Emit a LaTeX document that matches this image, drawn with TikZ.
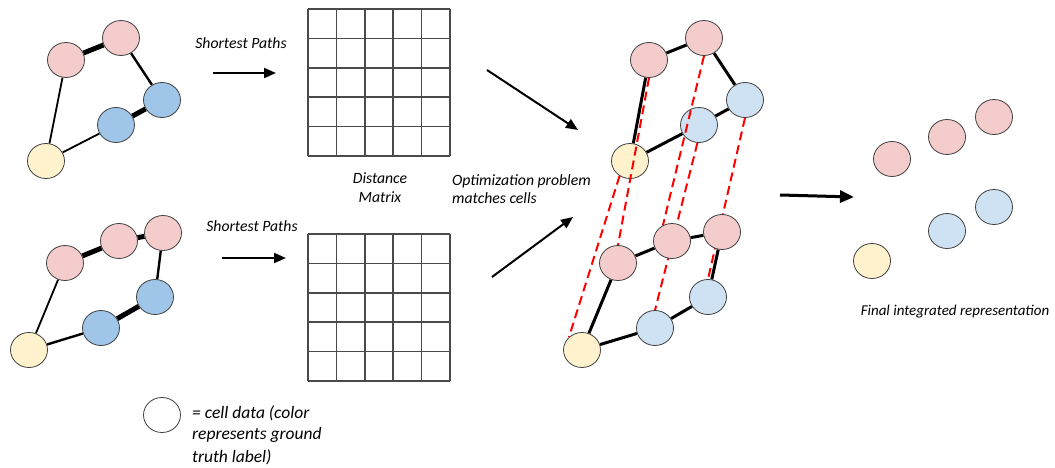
\documentclass[tikz,border=0pt]{standalone}
\usepackage{fontspec}
\setmainfont{Carlito}
\usetikzlibrary{arrows.meta,shapes.geometric}
\definecolor{pk}{HTML}{F4CCCC}
\definecolor{bd}{HTML}{9FC5E8}
\definecolor{bl}{HTML}{CFE2F3}
\definecolor{yl}{HTML}{FFF2CC}
\definecolor{gl}{HTML}{4A4A4A}
\pgfdeclarelayer{edgeL}
\pgfdeclarelayer{nodeL}
\pgfdeclarelayer{dashL}
\pgfsetlayers{edgeL,nodeL,dashL,main}
\begin{document}
\begin{tikzpicture}[x=1pt,y=-1pt,
  cell/.style={ellipse,draw=black!75,line width=0.8pt,minimum width=37pt,minimum height=35pt,inner sep=0pt},
  pinkc/.style={cell,fill=pk},
  bluedc/.style={cell,fill=bd},
  bluelc/.style={cell,fill=bl},
  yelc/.style={cell,fill=yl},
  whitec/.style={cell,fill=white},
  lbl/.style={font=\itshape\fontsize{15.7}{18}\selectfont,inner sep=0pt},
  leglbl/.style={font=\itshape\fontsize{17.5}{20}\selectfont,inner sep=0pt,anchor=west},
  arr/.style={line width=2pt,-{Triangle[length=12pt,width=10pt]}},
  bigarr/.style={line width=3pt,-{Triangle[length=14pt,width=12pt]}},
  ethin/.style={line width=1.8pt},
  enorm/.style={line width=2.4pt},
  ethick/.style={line width=5pt},
  emid/.style={line width=3pt},
  gridline/.style={draw=gl,line width=1.6pt},
  match/.style={red,line width=2pt,dash pattern=on 9pt off 5pt}]
\useasboundingbox (0,0) rectangle (1055,468);

% ---------- graph 1 (top left)
\node[pinkc] (a1) at (66,60) {};
\node[pinkc] (a2) at (121,38) {};
\node[bluedc] (a3) at (162,100) {};
\node[bluedc] (a4) at (116,125) {};
\node[yelc] (a5) at (46,161) {};
\begin{pgfonlayer}{edgeL}
\draw[ethick] (a1) -- (a2);
\draw[enorm] (a2) -- (a3);
\draw[ethick] (a3) -- (a4);
\draw[ethin] (a4) -- (a5);
\draw[ethin] (a5) -- (a1);
\end{pgfonlayer}

% ---------- graph 2 (bottom left)
\node[pinkc] (b1) at (65,263) {};
\node[pinkc] (b2) at (119,241) {};
\node[pinkc] (b3) at (163,233) {};
\node[bluedc] (b4) at (155,297) {};
\node[bluedc] (b5) at (101,328) {};
\node[yelc] (b6) at (29,350) {};
\begin{pgfonlayer}{edgeL}
\draw[ethin] (b6) -- (b1);
\draw[ethick] (b1) -- (b2);
\draw[ethick] (b2) -- (b3);
\draw[enorm] (b3) -- (b4);
\draw[ethick] (b4) -- (b5);
\draw[enorm] (b5) -- (b6);
\end{pgfonlayer}

% ---------- shortest paths arrows
\coordinate (s1a) at (213,73);
\coordinate (s1b) at (276,73);
\draw[arr] (s1a) -- (s1b);
\node[lbl] (sp1) at (241,43) {Shortest Paths};
\coordinate (s2a) at (222,258);
\coordinate (s2b) at (286,258);
\draw[arr] (s2a) -- (s2b);
\node[lbl] (sp2) at (252,226) {Shortest Paths};

% ---------- distance matrices
\foreach \yy in {9,234}{
  \foreach \i in {0,...,5}{
    \draw[gridline] ({308+28.4*\i},\yy) -- ({308+28.4*\i},\yy+147);
    \draw[gridline] (308,{\yy+29.4*\i}) -- (450,{\yy+29.4*\i});
  }
}
\node[lbl] (dm1) at (380,178) {Distance};
\node[lbl] (dm2) at (380,197) {Matrix};

% ---------- optimization arrows
\coordinate (o1a) at (487,70);
\coordinate (o1b) at (578,130);
\draw[arr] (o1a) -- (o1b);
\coordinate (o2a) at (492,277);
\coordinate (o2b) at (573,217);
\draw[arr] (o2a) -- (o2b);
\node[lbl,anchor=west] (op1) at (452,181) {Optimization problem};
\node[lbl,anchor=west] (op2) at (452,198) {matches cells};

% ---------- integrated graph, top part
\begin{pgfonlayer}{nodeL}
\node[pinkc] (p1) at (649,60) {};
\node[pinkc] (p2) at (704,38) {};
\node[bluelc] (p3) at (745,100) {};
\node[bluelc] (p4) at (699,125) {};
\node[yelc] (p5) at (630,161) {};
\end{pgfonlayer}
\begin{pgfonlayer}{edgeL}
\draw[emid] (p1) -- (p2);
\draw[emid] (p2) -- (p3);
\draw[emid] (p3) -- (p4);
\draw[emid] (p4) -- (p5);
\draw[emid] (p5) -- (p1);
\end{pgfonlayer}

% ---------- integrated graph, bottom part
\node[pinkc] (q1) at (618,263) {};
\node[pinkc] (q2) at (672,241) {};
\node[pinkc] (q3) at (722,232) {};
\node[bluelc] (q4) at (708,297) {};
\node[bluelc] (q5) at (655,328) {};
\node[yelc] (q6) at (582,350) {};
\begin{pgfonlayer}{edgeL}
\draw[emid] (q6) -- (q1);
\draw[emid] (q1) -- (q2);
\draw[emid] (q2) -- (q3);
\draw[emid] (q3) -- (q4);
\draw[emid] (q4) -- (q5);
\draw[emid] (q5) -- (q6);
\end{pgfonlayer}

% matching lines: over the top graph, under the bottom graph
\begin{pgfonlayer}{dashL}
\draw[match] (p5.235) -- (q6.135);
\draw[match] (p1.south) -- (q1.north);
\draw[match] (p2.south) -- (q2.120);
\draw[match] (p4.265) -- (q5.north);
\draw[match] (p3.south) -- (q4.north);
\end{pgfonlayer}

% ---------- final representation
\coordinate (fa) at (780,195);
\coordinate (fb) at (854,197);
\draw[bigarr] (fa) -- (fb);
\node[pinkc] (f1) at (892,159) {};
\node[pinkc] (f2) at (947,137) {};
\node[pinkc] (f3) at (994,117) {};
\node[bluelc] (f4) at (994,207) {};
\node[bluelc] (f5) at (947,231) {};
\node[yelc] (f6) at (872,261) {};
\node[font=\itshape\fontsize{15}{18}\selectfont,inner sep=0pt] (fin) at (955,312) {Final integrated representation};

% ---------- legend
\node[whitec] (leg) at (162,415) {};
\node[leglbl] (lt1) at (192,413) {= cell data (color};
\node[leglbl] (lt2) at (192,435) {represents ground};
\node[leglbl] (lt3) at (192,457) {truth label)};
\end{tikzpicture}
\end{document}
